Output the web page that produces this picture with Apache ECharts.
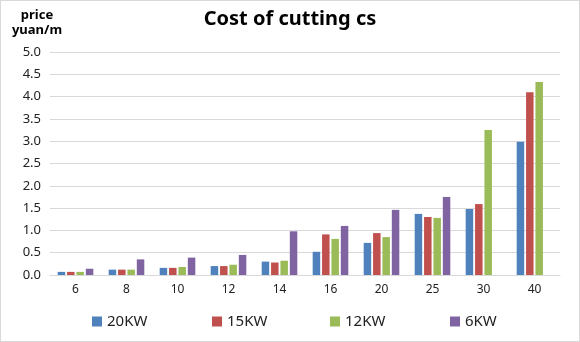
<!DOCTYPE html>
<html>
<head>
<meta charset="utf-8">
<script src="https://cdn.jsdelivr.net/npm/echarts@6/dist/echarts.min.js"></script>
<style>
  html, body { margin: 0; padding: 0; background: #fff; }
  #chart { width: 578px; height: 340px; border: 1px solid #d9d9d9; }
</style>
</head>
<body>
<div id="chart"></div>
<script>
// Cutting thickness categories (mm)
const categories = ['6', '8', '10', '12', '14', '16', '20', '25', '30', '40'];

// Cost per metre (yuan/m) by laser power
const kw20 = [0.07, 0.12, 0.16, 0.20, 0.30, 0.52, 0.72, 1.37, 1.48, 2.99];
const kw15 = [0.07, 0.12, 0.16, 0.20, 0.28, 0.91, 0.94, 1.30, 1.59, 4.10];
const kw12 = [0.07, 0.12, 0.18, 0.23, 0.32, 0.81, 0.85, 1.28, 3.25, 4.33];
const kw6  = [0.14, 0.35, 0.39, 0.45, 0.98, 1.10, 1.46, 1.75, null, null];

const seriesNames = ['20KW', '15KW', '12KW', '6KW'];
const colors = ['#4F81BD', '#C0504D', '#9BBB59', '#8064A2'];
const legendLeft = [91, 211, 329, 449];

const FONT = '"Noto Sans", "Open Sans", sans-serif';

const chart = echarts.init(document.getElementById('chart'), null, { renderer: 'canvas' });

chart.setOption({
  animation: false,
  color: colors,
  title: {
    text: 'Cost of cutting cs',
    left: 'center',
    top: 3,
    textStyle: { fontFamily: FONT, fontSize: 20, fontWeight: 'bold', color: '#000' }
  },
  // one legend per series so the items sit on evenly spaced slots
  legend: seriesNames.map((name, i) => ({
    data: [name],
    left: legendLeft[i],
    top: 313,
    padding: 0,
    itemWidth: 10,
    itemHeight: 10,
    itemGap: 5,
    icon: 'rect',
    textStyle: { fontFamily: FONT, fontSize: 15, color: '#222' }
  })),
  grid: { left: 49, right: 19, top: 51, bottom: 66 },
  xAxis: {
    type: 'category',
    data: categories,
    axisLine: { lineStyle: { color: '#d9d9d9' } },
    axisTick: { show: false },
    axisLabel: { color: '#222', fontFamily: FONT, fontSize: 12, margin: 9 }
  },
  yAxis: {
    type: 'value',
    min: 0,
    max: 5,
    interval: 0.5,
    name: 'price\nyuan/m',
    nameLocation: 'end',
    nameGap: 14,
    nameTextStyle: {
      fontFamily: FONT, fontSize: 13, fontWeight: 'bold', color: '#000',
      align: 'center', lineHeight: 15, padding: [0, 26, 0, 0]
    },
    axisLine: { show: false },
    axisTick: { show: false },
    splitLine: { lineStyle: { color: '#d9d9d9' } },
    axisLabel: {
      color: '#222', fontFamily: FONT, fontSize: 13, margin: 9,
      formatter: v => v.toFixed(1)
    }
  },
  series: [kw20, kw15, kw12, kw6].map((d, i) => ({
    name: seriesNames[i],
    type: 'bar',
    data: d,
    barWidth: 7.5,
    barGap: '25%'
  }))
});
</script>
</body>
</html>
